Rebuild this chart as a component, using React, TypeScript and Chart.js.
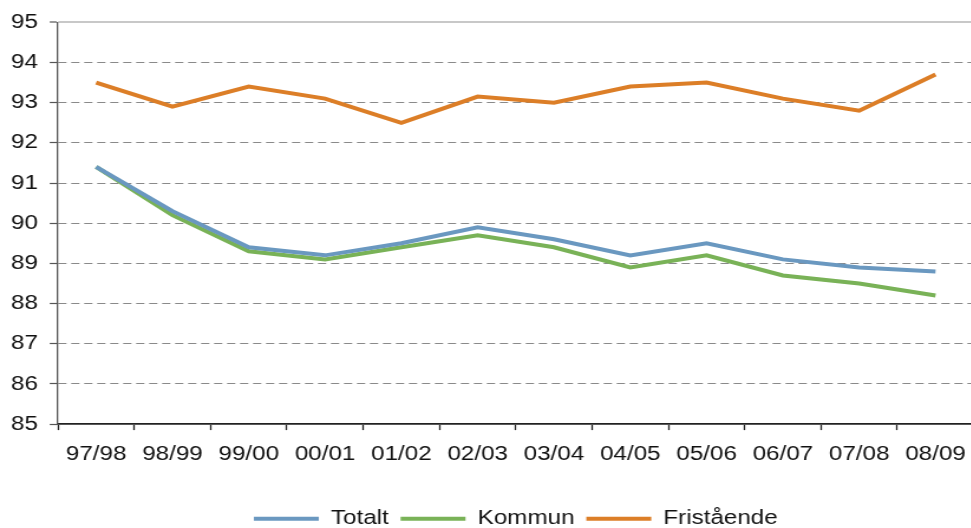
import React, { useEffect, useRef } from "react";
import { Chart, registerables } from "chart.js";

Chart.register(...registerables);

const categories = ["97/98", "98/99", "99/00", "00/01", "01/02", "02/03", "03/04", "04/05", "05/06", "06/07", "07/08", "08/09"];
const totalt = [91.4, 90.3, 89.4, 89.2, 89.5, 89.9, 89.6, 89.2, 89.5, 89.1, 88.9, 88.8];
const kommun = [91.4, 90.2, 89.3, 89.1, 89.4, 89.7, 89.4, 88.9, 89.2, 88.7, 88.5, 88.2];
const fristaende = [93.5, 92.9, 93.4, 93.1, 92.5, 93.15, 93.0, 93.4, 93.5, 93.1, 92.8, 93.7];
const yMin = 85;
const yMax = 95;

const BLUE = "#6a98c0";
const GREEN = "#79b257";
const ORANGE = "#dc7e27";
const FONT = "'Liberation Sans', Arial, sans-serif";

export default function App() {
  const ref = useRef<HTMLCanvasElement>(null);

  useEffect(() => {
    if (!ref.current) return;
    Chart.defaults.font.family = FONT;
    const chart = new Chart(ref.current, {
      type: "line",
      data: {
        labels: categories,
        datasets: [
          { label: "Totalt", data: totalt, borderColor: BLUE, backgroundColor: BLUE, borderWidth: 4, pointRadius: 0, tension: 0 },
          { label: "Kommun", data: kommun, borderColor: GREEN, backgroundColor: GREEN, borderWidth: 4, pointRadius: 0, tension: 0 },
          { label: "Fristående", data: fristaende, borderColor: ORANGE, backgroundColor: ORANGE, borderWidth: 4, pointRadius: 0, tension: 0 },
        ],
      },
      options: {
        responsive: false,
        animation: false,
        devicePixelRatio: 1,
        layout: { padding: { top: 22.3, right: 1.3, left: 0, bottom: 0 } },
        plugins: {
          tooltip: { enabled: false },
          legend: {
            position: "bottom",
            fullSize: false,
            labels: {
              boxWidth: 55,
              boxHeight: 4,
              padding: 10,
              color: "#111",
              font: { family: FONT, size: 20.5 },
              generateLabels: (c: any) =>
                (Chart.defaults.plugins.legend.labels.generateLabels as any)(c).map((l: any) => ({
                  ...l,
                  lineWidth: 0,
                  fillStyle: l.strokeStyle,
                })),
            },
          },
        },
        scales: {
          x: {
            offset: true,
            grid: {
              offset: true,
              drawOnChartArea: false,
              drawTicks: true,
              tickLength: 6,
              tickColor: "#222",
              tickWidth: 1.3,
            },
            border: { color: "#222", width: 1.8 },
            ticks: {
              padding: 12,
              color: "#111",
              font: { family: FONT, size: 20.5 },
              maxRotation: 0,
              autoSkip: false,
            },
            afterFit: (s: any) => {
              s.height = 74.4;
            },
          },
          y: {
            min: yMin,
            max: yMax,
            ticks: {
              stepSize: 1,
              padding: 10,
              color: "#111",
              font: { family: FONT, size: 20.5 },
            },
            grid: {
              color: (ctx: any) =>
                ctx.tick && ctx.tick.value === yMax ? "#c8c8c8" : ctx.tick && ctx.tick.value === yMin ? "rgba(0,0,0,0)" : "#8a8a8a",
              lineWidth: (ctx: any) => (ctx.tick && ctx.tick.value === yMax ? 2 : 1),
              tickColor: "#555",
              tickWidth: 1.2,
              tickLength: 7,
            },
            border: {
              color: "#555",
              width: 1.3,
              dash: (ctx: any) => (ctx.tick && ctx.tick.value !== yMax ? [7, 4] : []),
            },
            afterFit: (s: any) => {
              s.width = 49.1;
            },
          },
        },
      },
    });
    return () => chart.destroy();
  }, []);

  return (
    <div style={{ position: "fixed", left: 0, top: 0, width: 971, height: 528, overflow: "hidden", background: "#fff" }}>
      <canvas ref={ref} width={830} height={539} style={{ width: "980px", height: "539px", display: "block" }} />
    </div>
  );
}
